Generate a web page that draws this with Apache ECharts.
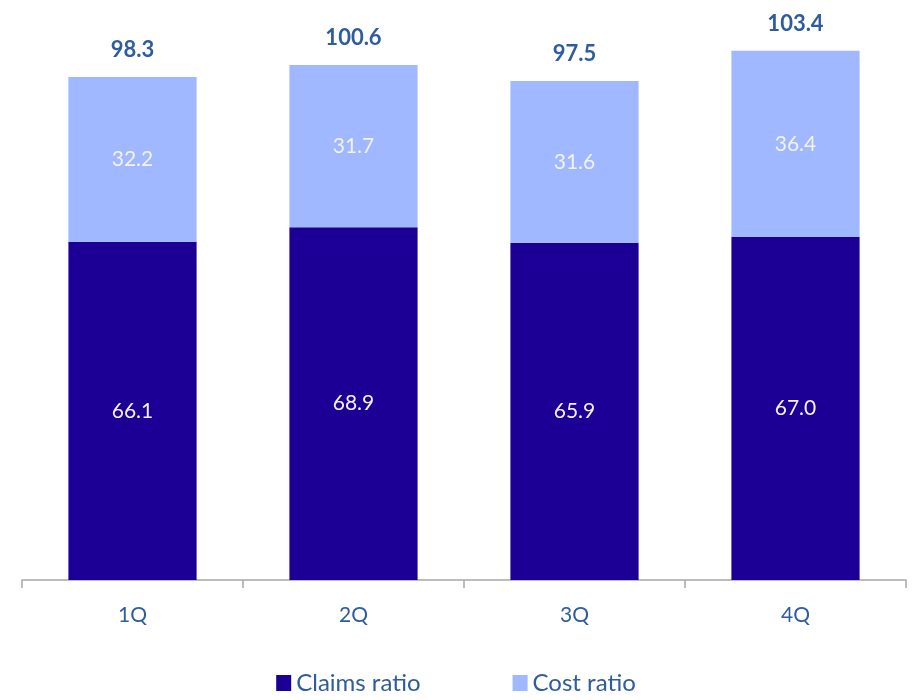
<!DOCTYPE html>
<html>
<head>
<meta charset="utf-8">
<script src="https://cdn.jsdelivr.net/npm/echarts@6/dist/echarts.min.js"></script>
<style>
  html, body { margin: 0; padding: 0; background: #fff; }
  #chart { width: 912px; height: 700px; }
</style>
</head>
<body>
<div id="chart"></div>
<script>
// data
var quarters = ['1Q', '2Q', '3Q', '4Q'];
var claimsRatio = [66.1, 68.9, 65.9, 67.0];
var costRatio = [32.2, 31.7, 31.6, 36.4];
var combinedRatio = [98.3, 100.6, 97.5, 103.4];

var textBlue = '#2f5c9c';
var font = 'Lato';

var myChart = echarts.init(document.getElementById('chart'));
myChart.setOption({
  animation: false,
  textStyle: { fontFamily: font },
  grid: { left: 22, right: 6, top: 17, bottom: 120 },
  legend: {
    bottom: 0,
    left: 'center',
    itemWidth: 15,
    itemHeight: 16,
    itemGap: 92,
    icon: 'rect',
    textStyle: { color: textBlue, fontSize: 24, fontFamily: font },
    data: ['Claims ratio', 'Cost ratio']
  },
  xAxis: {
    type: 'category',
    data: quarters,
    axisLine: { show: true, lineStyle: { color: '#a6a6a6', width: 1.5 } },
    axisTick: { show: true, interval: 0, length: 8, lineStyle: { color: '#a6a6a6', width: 1.5 } },
    axisLabel: { color: textBlue, fontSize: 21, margin: 25, fontFamily: font }
  },
  yAxis: {
    type: 'value',
    min: 0,
    max: 110,
    axisLine: { show: false },
    axisTick: { show: false },
    axisLabel: { show: false },
    splitLine: { show: false }
  },
  series: [
    {
      name: 'Claims ratio',
      type: 'bar',
      stack: 'ratio',
      barWidth: '58%',
      data: claimsRatio,
      itemStyle: { color: '#1c0096' },
      label: {
        show: true,
        position: 'inside',
        color: '#f2f2f2',
        fontSize: 21,
        fontFamily: font,
        formatter: function (p) { return p.value.toFixed(1); }
      }
    },
    {
      name: 'Cost ratio',
      type: 'bar',
      stack: 'ratio',
      barWidth: '58%',
      data: costRatio,
      itemStyle: { color: '#9fb8ff' },
      label: {
        show: true,
        position: 'inside',
        color: '#f2f2f2',
        fontSize: 21,
        fontFamily: font,
        formatter: function (p) { return p.value.toFixed(1); }
      }
    },
    {
      // invisible series only carrying the total labels
      name: 'Total',
      type: 'bar',
      stack: 'ratio',
      barWidth: '58%',
      data: combinedRatio.map(function () { return 0; }),
      itemStyle: { color: 'transparent' },
      label: {
        show: true,
        position: 'top',
        distance: 16,
        color: textBlue,
        fontSize: 22,
        fontWeight: 'bold',
        fontFamily: font,
        formatter: function (p) { return combinedRatio[p.dataIndex].toFixed(1); }
      }
    }
  ]
});
</script>
</body>
</html>
